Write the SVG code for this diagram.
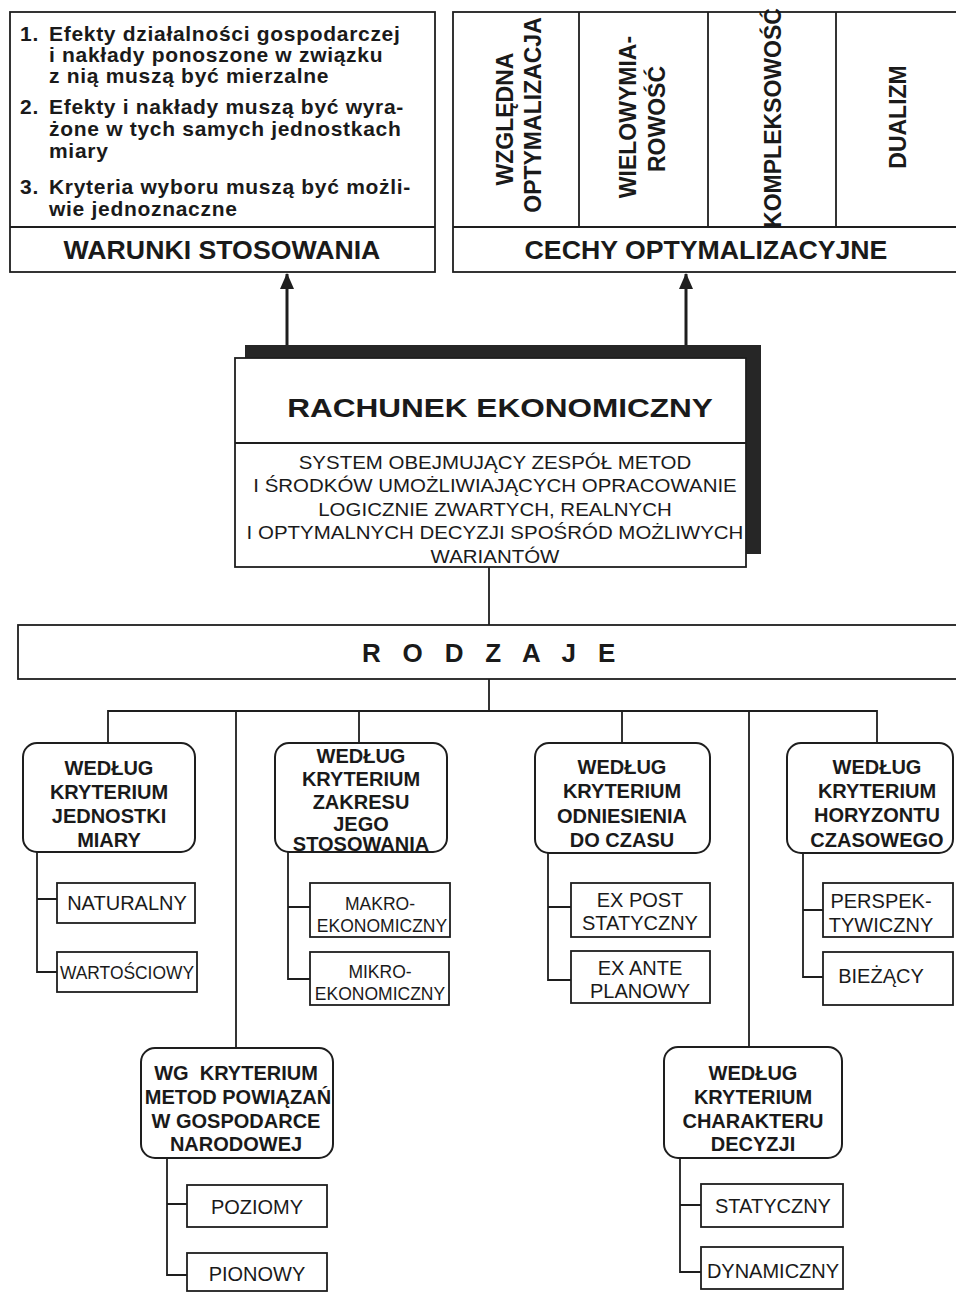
<svg xmlns="http://www.w3.org/2000/svg" width="956" height="1293" viewBox="0 0 956 1293">
  <style>
    .box { fill: #ffffff; stroke: #1e1e1e; stroke-width: 1.8; }
    .rbox { fill: #ffffff; stroke: #1e1e1e; stroke-width: 2; }
    .line { fill: none; stroke: #1e1e1e; stroke-width: 1.8; }
    .arrow { fill: none; stroke: #1e1e1e; stroke-width: 3; }
    text { font-family: "Liberation Sans", Arial, sans-serif; fill: #1a1a1a; }
    .list { font-size: 21px; font-weight: bold; letter-spacing: 0.7px; }
    .head { font-size: 26.7px; font-weight: bold; text-anchor: middle; }
    .vert { font-size: 23px; font-weight: bold; text-anchor: middle; }
    .title { font-size: 26.5px; font-weight: bold; text-anchor: middle; }
    .desc { font-size: 17.5px; text-anchor: middle; }
    .kind { font-size: 20px; font-weight: bold; text-anchor: middle; }
    .sub { font-size: 20px; text-anchor: middle; }
    .sub2 { font-size: 17.5px; text-anchor: middle; }
  </style>
  <defs>
    <marker id="head" viewBox="0 0 16 14" refX="15" refY="7" markerWidth="16" markerHeight="14" markerUnits="userSpaceOnUse" orient="auto">
      <path d="M0,0 L16,7 L0,14 Z" fill="#1e1e1e"/>
    </marker>
  </defs>

  <rect x="0" y="0" width="956" height="1293" fill="#ffffff"/>

  <!-- connectors -->
  <g id="connectors">
    <line class="arrow" x1="287" y1="346" x2="287" y2="274" marker-end="url(#head)"/>
    <line class="arrow" x1="686" y1="346" x2="686" y2="274" marker-end="url(#head)"/>
    <path class="line" d="M489,567 V626"/>
    <path class="line" d="M489,678 V711"/>
    <path class="line" d="M108,743 V711 H877 V743"/>
    <path class="line" d="M236,711 V1048"/>
    <path class="line" d="M359,711 V743"/>
    <path class="line" d="M622,711 V743"/>
    <path class="line" d="M749,711 V1047"/>
    <path class="line" d="M37,852 V972 H57 M37,899 H57"/>
    <path class="line" d="M288,852 V979 H310 M288,907 H310"/>
    <path class="line" d="M548,853 V980 H571 M548,907 H571"/>
    <path class="line" d="M803,853 V977 H823 M803,910 H823"/>
    <path class="line" d="M167,1158 V1275 H187 M167,1204 H187"/>
    <path class="line" d="M680,1158 V1272 H701 M680,1205 H701"/>
  </g>

  <!-- conditions of use -->
  <g id="warunki">
    <rect class="box" x="10" y="12" width="425" height="260"/>
    <line class="line" x1="10" y1="227" x2="435" y2="227"/>
    <text class="list" x="20" y="41">1.</text>
    <text class="list" x="49" y="41">Efekty działalności gospodarczej</text>
    <text class="list" x="49" y="62">i nakłady ponoszone w związku</text>
    <text class="list" x="49" y="83">z nią muszą być mierzalne</text>
    <text class="list" x="20" y="114">2.</text>
    <text class="list" x="49" y="114">Efekty i nakłady muszą być wyra-</text>
    <text class="list" x="49" y="136">żone w tych samych jednostkach</text>
    <text class="list" x="49" y="158">miary</text>
    <text class="list" x="20" y="194">3.</text>
    <text class="list" x="49" y="194">Kryteria wyboru muszą być możli-</text>
    <text class="list" x="49" y="216">wie jednoznaczne</text>
    <text class="head" x="222" y="259">WARUNKI STOSOWANIA</text>
  </g>

  <!-- optimisation features -->
  <g id="cechy">
    <rect class="box" x="453" y="12" width="510" height="260"/>
    <line class="line" x1="453" y1="227" x2="960" y2="227"/>
    <line class="line" x1="579" y1="12" x2="579" y2="227"/>
    <line class="line" x1="708" y1="12" x2="708" y2="227"/>
    <line class="line" x1="836" y1="12" x2="836" y2="227"/>
    <text class="vert" transform="translate(513,119) rotate(-90)">WZGLĘDNA</text>
    <text class="vert" transform="translate(541,115) rotate(-90)">OPTYMALIZACJA</text>
    <text class="vert" transform="translate(636,117) rotate(-90)">WIELOWYMIA-</text>
    <text class="vert" transform="translate(665,119) rotate(-90)">ROWOŚĆ</text>
    <text class="vert" transform="translate(781,118) rotate(-90)">KOMPLEKSOWOŚĆ</text>
    <text class="vert" transform="translate(906,117) rotate(-90)">DUALIZM</text>
    <text class="head" x="706" y="259">CECHY OPTYMALIZACYJNE</text>
  </g>

  <!-- central node -->
  <g id="rachunek">
    <rect x="245" y="345" width="516" height="209" fill="#262626"/>
    <rect class="box" x="235" y="358" width="511" height="209"/>
    <line class="line" x1="235" y1="443" x2="746" y2="443"/>
    <g transform="translate(500,0) scale(1.19,1)">
      <text class="title" x="0" y="417">RACHUNEK EKONOMICZNY</text>
    </g>
    <g transform="translate(495,0) scale(1.17,1)">
      <text class="desc" x="0" y="469">SYSTEM OBEJMUJĄCY ZESPÓŁ METOD</text>
      <text class="desc" x="0" y="492">I ŚRODKÓW UMOŻLIWIAJĄCYCH OPRACOWANIE</text>
      <text class="desc" x="0" y="516">LOGICZNIE ZWARTYCH, REALNYCH</text>
      <text class="desc" x="0" y="539">I OPTYMALNYCH DECYZJI SPOŚRÓD MOŻLIWYCH</text>
      <text class="desc" x="0" y="563">WARIANTÓW</text>
    </g>
  </g>

  <!-- kinds -->
  <g id="rodzaje">
    <rect class="box" x="18" y="625" width="945" height="54"/>
    <text x="362" y="662" font-size="26" font-weight="bold" letter-spacing="7.3">R O D Z A J E</text>
  </g>

  <g id="jednostki-miary">
    <rect class="rbox" x="23" y="743" width="172" height="109" rx="14"/>
    <text class="kind" x="109" y="775">WEDŁUG</text>
    <text class="kind" x="109" y="799">KRYTERIUM</text>
    <text class="kind" x="109" y="823">JEDNOSTKI</text>
    <text class="kind" x="109" y="847">MIARY</text>
  </g>
  <g id="naturalny">
    <rect class="box" x="57" y="883" width="138" height="40"/>
    <text class="sub" x="127" y="910">NATURALNY</text>
  </g>
  <g id="wartosciowy">
    <rect class="box" x="57" y="952" width="140" height="40"/>
    <text x="60" y="979" font-size="18.5" textLength="134" lengthAdjust="spacingAndGlyphs">WARTOŚCIOWY</text>
  </g>

  <g id="zakres">
    <rect class="rbox" x="275" y="743" width="172" height="109" rx="14"/>
    <text class="kind" x="361" y="763">WEDŁUG</text>
    <text class="kind" x="361" y="786">KRYTERIUM</text>
    <text class="kind" x="361" y="809">ZAKRESU</text>
    <text class="kind" x="361" y="831">JEGO</text>
    <text class="kind" x="361" y="851">STOSOWANIA</text>
  </g>
  <g id="makro">
    <rect class="box" x="310" y="883" width="140" height="54"/>
    <text class="sub2" x="380" y="910">MAKRO-</text>
    <text class="sub2" x="382" y="932">EKONOMICZNY</text>
  </g>
  <g id="mikro">
    <rect class="box" x="310" y="952" width="139" height="53"/>
    <text class="sub2" x="380" y="978">MIKRO-</text>
    <text class="sub2" x="380" y="1000">EKONOMICZNY</text>
  </g>

  <g id="czas">
    <rect class="rbox" x="535" y="743" width="175" height="110" rx="14"/>
    <text class="kind" x="622" y="774">WEDŁUG</text>
    <text class="kind" x="622" y="798">KRYTERIUM</text>
    <text class="kind" x="622" y="823">ODNIESIENIA</text>
    <text class="kind" x="622" y="847">DO CZASU</text>
  </g>
  <g id="ex-post">
    <rect class="box" x="571" y="883" width="139" height="54"/>
    <text class="sub" x="640" y="907">EX POST</text>
    <text class="sub" x="640" y="930">STATYCZNY</text>
  </g>
  <g id="ex-ante">
    <rect class="box" x="571" y="951" width="139" height="52"/>
    <text class="sub" x="640" y="975">EX ANTE</text>
    <text class="sub" x="640" y="998">PLANOWY</text>
  </g>

  <g id="horyzont">
    <rect class="rbox" x="787" y="743" width="166" height="110" rx="14"/>
    <text class="kind" x="877" y="774">WEDŁUG</text>
    <text class="kind" x="877" y="798">KRYTERIUM</text>
    <text class="kind" x="877" y="822">HORYZONTU</text>
    <text class="kind" x="877" y="847">CZASOWEGO</text>
  </g>
  <g id="perspektywiczny">
    <rect class="box" x="823" y="883" width="130" height="54"/>
    <text class="sub" x="881" y="908">PERSPEK-</text>
    <text class="sub" x="881" y="932">TYWICZNY</text>
  </g>
  <g id="biezacy">
    <rect class="box" x="823" y="952" width="130" height="53"/>
    <text class="sub" x="881" y="983">BIEŻĄCY</text>
  </g>

  <g id="powiazania">
    <rect class="rbox" x="141" y="1048" width="192" height="110" rx="14"/>
    <text class="kind" x="236" y="1080" xml:space="preserve">WG  KRYTERIUM</text>
    <text class="kind" x="238" y="1104">METOD POWIĄZAŃ</text>
    <text class="kind" x="236" y="1128">W GOSPODARCE</text>
    <text class="kind" x="236" y="1151">NARODOWEJ</text>
  </g>
  <g id="poziomy">
    <rect class="box" x="187" y="1185" width="140" height="42"/>
    <text class="sub" x="257" y="1214">POZIOMY</text>
  </g>
  <g id="pionowy">
    <rect class="box" x="187" y="1253" width="140" height="38"/>
    <text class="sub" x="257" y="1281">PIONOWY</text>
  </g>

  <g id="charakter-decyzji">
    <rect class="rbox" x="664" y="1047" width="178" height="111" rx="14"/>
    <text class="kind" x="753" y="1080">WEDŁUG</text>
    <text class="kind" x="753" y="1104">KRYTERIUM</text>
    <text class="kind" x="753" y="1128">CHARAKTERU</text>
    <text class="kind" x="753" y="1151">DECYZJI</text>
  </g>
  <g id="statyczny">
    <rect class="box" x="701" y="1184" width="142" height="43"/>
    <text class="sub" x="773" y="1213">STATYCZNY</text>
  </g>
  <g id="dynamiczny">
    <rect class="box" x="701" y="1247" width="142" height="42"/>
    <text class="sub" x="773" y="1278">DYNAMICZNY</text>
  </g>
</svg>
